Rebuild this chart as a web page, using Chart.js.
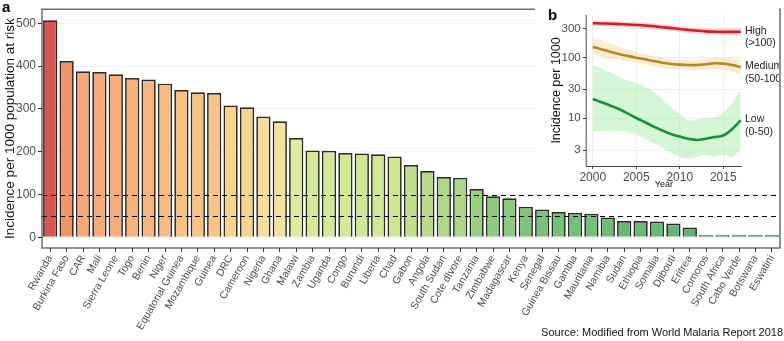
<!DOCTYPE html>
<html>
<head>
<meta charset="utf-8">
<script src="https://cdn.jsdelivr.net/npm/chart.js@4/dist/chart.umd.min.js"></script>
<style>
  html, body { margin: 0; padding: 0; background: #fff; }
  #wrap { position: relative; width: 784px; height: 341px; }
  #main { position: absolute; left: 0; top: 0; }
  #inset { position: absolute; left: 535px; top: 6px; }
</style>
</head>
<body>
<div id="wrap">
  <canvas id="main" width="784" height="341"></canvas>
  <canvas id="inset" width="244" height="184"></canvas>
</div>
<script>
// panel a: incidence per 1000 population at risk
var countries = ["Rwanda", "Burkina Faso", "CAR", "Mali", "Sierra Leone", "Togo", "Benin", "Niger",
  "Equatorial Guinea", "Mozambique", "Guinea", "DRC", "Cameroon", "Nigeria", "Ghana", "Malawi",
  "Zambia", "Uganda", "Congo", "Burundi", "Liberia", "Chad", "Gabon", "Angola", "South Sudan",
  "Cote dIvore", "Tanzania", "Zimbabwe", "Madagascar", "Kenya", "Senegal", "Guinea Bissau", "Gambia",
  "Mauritania", "Namibia", "Sudan", "Ethiopia", "Somalia", "Djibouti", "Eritrea", "Comoros",
  "South Africa", "Cabo Verde", "Botswana", "Eswatini"];
var incidence = [507, 412, 388, 386, 381, 372, 369, 359, 344, 339, 337, 308, 304, 282, 271, 232,
  203, 202, 197, 196, 194, 189, 169, 155, 141, 139, 113, 96, 91, 71, 65, 59, 57, 55, 46, 38, 38, 37,
  32, 23, 4, 4, 3, 2, 2];
var yTicks = [0, 100, 200, 300, 400, 500];
var cutoffs = [100, 50];

// panel b: incidence by group, 2000-2017
var years = [2000, 2001, 2002, 2003, 2004, 2005, 2006, 2007, 2008, 2009, 2010, 2011, 2012, 2013, 2014, 2015, 2016, 2017];
var highMid = [365, 362, 358, 353, 348, 342, 335, 325, 314, 303, 293, 282, 274, 268, 265, 263, 263, 264];
var highUp  = [405, 402, 398, 393, 388, 381, 373, 363, 351, 339, 328, 316, 307, 300, 297, 295, 296, 300];
var highLo  = [330, 327, 323, 318, 313, 307, 300, 291, 281, 271, 262, 252, 245, 240, 237, 235, 233, 230];
var medMid = [149, 136, 124, 114, 106, 99, 93, 87, 82, 78, 76, 75, 75, 77, 80, 79, 75, 69];
var medUp  = [211, 190, 170, 150, 135, 123, 113, 105, 98, 93, 91, 90, 91, 95, 100, 100, 97, 92];
var medLo  = [112, 104, 97, 92, 88, 84, 77, 71, 67, 64, 63, 62, 62, 62, 64, 63, 58, 52];
var lowMid = [20.7, 18.3, 16.2, 14.2, 12, 10.1, 8.6, 7.3, 6.3, 5.5, 5.0, 4.6, 4.4, 4.6, 4.9, 5.2, 6.6, 9.2];
var lowUp  = [76, 66, 56, 48, 42, 38, 33, 27, 20, 15, 11.7, 9.2, 9.5, 10, 10.4, 12.5, 17.8, 29];
var lowLo  = [6.0, 6.2, 6.3, 6.2, 5.9, 5.4, 4.6, 3.9, 3.3, 2.7, 2.3, 2.2, 2.3, 2.5, 2.3, 2.5, 2.3, 3.2];
var groupNames = [["High", "(>100)"], ["Medium", "(50-100)"], ["Low", "(0-50)"]];
var logTicks = [3, 10, 30, 100, 300];
var yearTicks = [2000, 2005, 2010, 2015];

var FONT = "'Liberation Sans', Arial, Helvetica, sans-serif";
Chart.defaults.font.family = FONT;
Chart.defaults.animation = false;

// fill colour by value, red -> yellow -> green
var stops = [
  [0, [74, 168, 98]], [25, [95, 181, 113]], [70, [124, 196, 123]], [113, [155, 208, 130]],
  [170, [195, 224, 139]], [205, [216, 234, 151]], [235, [226, 236, 160]], [265, [243, 230, 160]],
  [300, [249, 214, 144]], [340, [248, 196, 132]], [380, [249, 174, 122]], [412, [240, 148, 106]],
  [507, [217, 83, 79]]
];
function fillFor(v) {
  for (var i = 1; i < stops.length; i++) {
    if (v <= stops[i][0]) {
      var a = stops[i - 1], b = stops[i];
      var t = (v - a[0]) / (b[0] - a[0]);
      var c = a[1].map(function (x, k) { return Math.round(x + (b[1][k] - x) * t); });
      return 'rgb(' + c.join(',') + ')';
    }
  }
  return 'rgb(217,83,79)';
}

var mainDecor = {
  id: 'mainDecor',
  afterDatasetsDraw: function (chart) {
    var ctx = chart.ctx, a = chart.chartArea, y = chart.scales.y;
    ctx.save();
    ctx.strokeStyle = '#000';
    ctx.lineWidth = 1.2;
    ctx.setLineDash([5, 4]);
    cutoffs.forEach(function (v) {
      var py = Math.round(y.getPixelForValue(v)) + 0.5;
      ctx.beginPath();
      ctx.moveTo(a.left, py);
      ctx.lineTo(a.right, py);
      ctx.stroke();
    });
    ctx.restore();
  },
  afterDraw: function (chart) {
    var ctx = chart.ctx, a = chart.chartArea;
    ctx.save();
    ctx.strokeStyle = '#4a4a4a';
    ctx.lineWidth = 1.2;
    ctx.strokeRect(a.left, a.top, a.right - a.left, a.bottom - a.top);
    ctx.fillStyle = '#000';
    ctx.font = 'bold 15px ' + FONT;
    ctx.textBaseline = 'middle';
    ctx.fillText('a', 2, 8);
    ctx.font = '11px ' + FONT;
    ctx.textAlign = 'right';
    ctx.fillStyle = '#111';
    ctx.fillText('Source: Modified from World Malaria Report 2018', 783, 333);
    ctx.restore();
  }
};

new Chart(document.getElementById('main'), {
  type: 'bar',
  data: {
    labels: countries,
    datasets: [{
      data: incidence,
      backgroundColor: incidence.map(fillFor),
      borderColor: '#2a2a2a',
      borderWidth: 1.7,
      minBarLength: 2,
      barPercentage: 0.87,
      categoryPercentage: 1
    }]
  },
  options: {
    responsive: false,
    layout: { padding: { left: 0, right: 4, top: 5, bottom: 0 } },
    plugins: { legend: { display: false }, tooltip: { enabled: false } },
    scales: {
      x: {
        grid: { drawOnChartArea: false, offset: false, color: '#333', tickLength: 4 },
        border: { display: false },
        ticks: { autoSkip: false, minRotation: 60, maxRotation: 60, padding: 1,
          color: '#4d4d4d', font: { size: 10.5 } },
        afterFit: function (s) { s.height = 93; }
      },
      y: {
        min: -25, max: 533,
        afterBuildTicks: function (s) { s.ticks = yTicks.map(function (v) { return { value: v }; }); },
        grid: { color: '#f1f1f1', tickColor: '#333', tickLength: 4 },
        border: { display: false },
        ticks: { color: '#4d4d4d', font: { size: 12 }, padding: 2 },
        title: { display: true, text: 'Incidence per 1000 population at risk', color: '#111',
          font: { size: 13.5 }, padding: { top: 2, bottom: 0 } },
        afterFit: function (s) { s.width = 42; }
      }
    }
  },
  plugins: [mainDecor]
});

var insetDecor = {
  id: 'insetDecor',
  beforeDraw: function (chart) {
    var ctx = chart.ctx;
    ctx.save();
    ctx.fillStyle = '#fff';
    ctx.fillRect(0, 0, chart.width, chart.height);
    ctx.restore();
  },
  afterDraw: function (chart) {
    var ctx = chart.ctx, a = chart.chartArea, y = chart.scales.y;
    ctx.save();
    ctx.strokeStyle = '#444';
    ctx.lineWidth = 1;
    ctx.beginPath();
    ctx.moveTo(a.left + 0.5, a.top);
    ctx.lineTo(a.left + 0.5, a.bottom + 0.5);
    ctx.lineTo(a.right, a.bottom + 0.5);
    ctx.stroke();
    ctx.fillStyle = '#000';
    ctx.font = 'bold 15px ' + FONT;
    ctx.textBaseline = 'middle';
    ctx.fillText('b', 13, 10);
    ctx.fillStyle = '#222';
    ctx.font = '10.5px ' + FONT;
    var ends = [highMid, medMid, lowMid];
    ends.forEach(function (s, i) {
      var py = y.getPixelForValue(s[s.length - 1]);
      ctx.fillText(groupNames[i][0], a.right + 3, py - 1);
      ctx.fillText(groupNames[i][1], a.right + 3, py + 11.5);
    });
    ctx.restore();
  }
};

function band(data, fillTo, colour) {
  return { data: data, borderWidth: 0, pointRadius: 0, fill: fillTo, backgroundColor: colour, tension: 0.4, order: 2 };
}
function line(data, colour) {
  return { data: data, borderColor: colour, borderWidth: 2.6, pointRadius: 0, fill: false, tension: 0.4, order: 1 };
}

new Chart(document.getElementById('inset'), {
  type: 'line',
  data: {
    labels: years,
    datasets: [
      line(highMid, '#d41e24'),
      line(medMid, '#b38a22'),
      line(lowMid, '#16903a'),
      band(lowUp, '+1', 'rgba(160, 235, 160, 0.45)'),
      band(lowLo, false, 'rgba(0,0,0,0)'),
      band(medUp, '+1', 'rgba(245, 215, 165, 0.5)'),
      band(medLo, false, 'rgba(0,0,0,0)'),
      band(highUp, '+1', 'rgba(245, 160, 160, 0.45)'),
      band(highLo, false, 'rgba(0,0,0,0)')
    ]
  },
  options: {
    responsive: false,
    layout: { padding: { left: 10, right: 37, top: 2, bottom: 0 } },
    plugins: { legend: { display: false }, tooltip: { enabled: false } },
    scales: {
      x: {
        type: 'linear', min: 1999.19, max: 2017.15,
        afterBuildTicks: function (s) { s.ticks = yearTicks.map(function (v) { return { value: v }; }); },
        grid: { color: '#eeeeee', tickColor: '#444', tickLength: 3 },
        border: { display: false },
        ticks: { color: '#4d4d4d', font: { size: 12 }, padding: 1,
          callback: function (v) { return String(v); } },
        title: { display: true, text: 'Year', color: '#111', font: { size: 9 }, padding: { top: -2, bottom: 0 } },
        afterFit: function (s) { s.height = 24; }
      },
      y: {
        type: 'logarithmic', min: 1.64, max: 500,
        afterBuildTicks: function (s) { s.ticks = logTicks.map(function (v) { return { value: v }; }); },
        grid: { color: '#eeeeee', tickColor: '#444', tickLength: 3 },
        border: { display: false },
        ticks: { color: '#4d4d4d', font: { size: 11.5 }, padding: 2,
          callback: function (v) { return String(v); } },
        title: { display: true, text: 'Incidence per 1000', color: '#111', font: { size: 12.5 },
          padding: { top: 4, bottom: 0 } },
        afterFit: function (s) { s.width = 40.7; }
      }
    }
  },
  plugins: [insetDecor]
});
</script>
</body>
</html>
